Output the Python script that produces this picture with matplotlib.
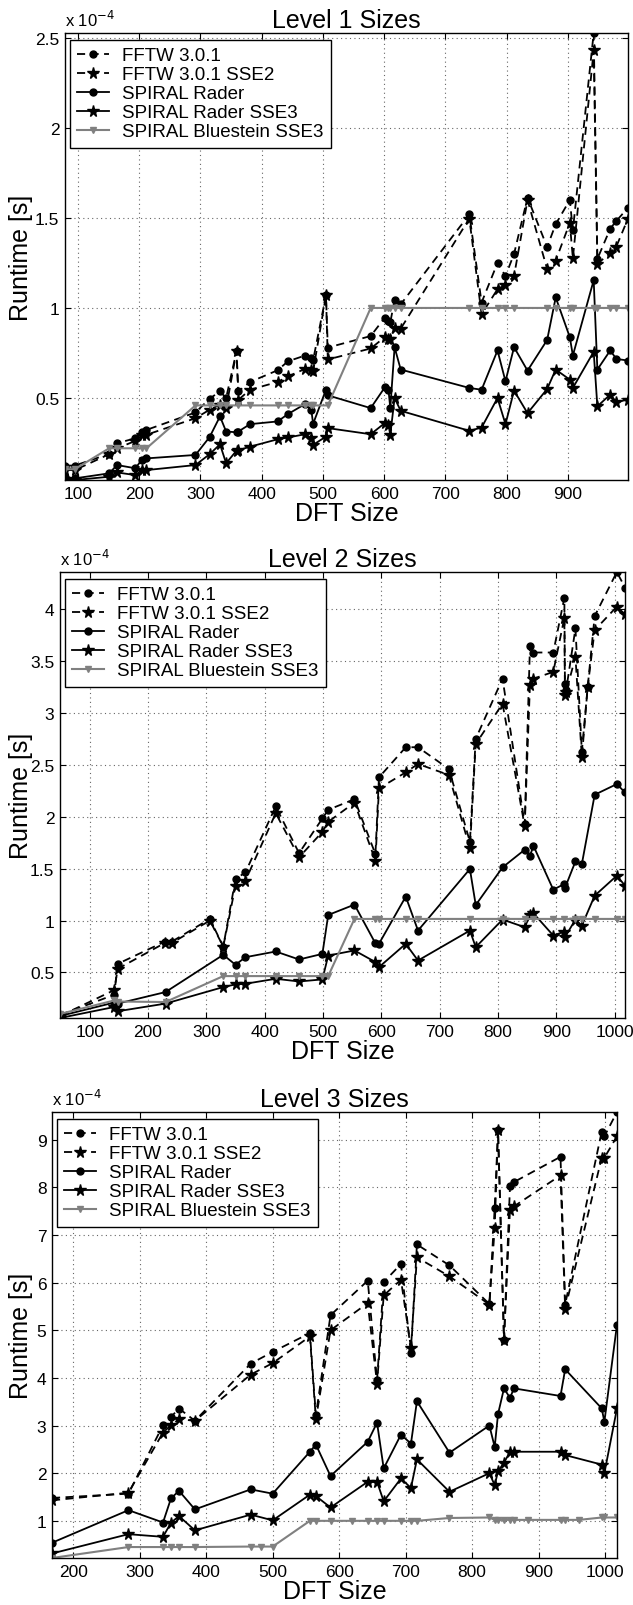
import matplotlib
matplotlib.use("Agg")
import matplotlib.pyplot as plt
from matplotlib.ticker import FuncFormatter

plt.rcParams['font.family'] = ['Liberation Sans', 'DejaVu Sans']

# runtimes are in units of 1e-4 s (the axes carry an "x 10^-4" multiplier)

# ---- Level 1 sizes ----
x1_fftw = [79, 95, 151, 164, 194, 204, 212, 292, 315, 332, 342, 359, 362, 381, 426, 443, 471, 481, 484, 505,
           508, 578, 601, 607, 610, 617, 627, 739, 759, 785, 798, 812, 834, 866, 880, 903, 908, 942, 948, 969,
           979, 998]
fftw1 = [0.125, 0.125, 0.19, 0.249, 0.277, 0.31, 0.323, 0.42, 0.496, 0.537, 0.50, 0.76, 0.537, 0.589, 0.654,
         0.704, 0.736, 0.723, 0.71, 1.07, 0.78, 0.844, 0.946, 0.928, 0.92, 1.045, 1.02, 1.519, 1.03, 1.25,
         1.177, 1.30, 1.612, 1.338, 1.465, 1.599, 1.431, 2.526, 1.272, 1.44, 1.483, 1.556]
fftw1_sse2 = [0.10, 0.10, 0.188, 0.221, 0.262, 0.292, 0.296, 0.388, 0.435, 0.463, 0.444, 0.76, 0.49, 0.546,
              0.589, 0.62, 0.662, 0.655, 0.649, 1.07, 0.714, 0.775, 0.838, 0.825, 0.83, 0.89, 0.885, 1.496,
              0.965, 1.104, 1.128, 1.178, 1.599, 1.216, 1.263, 1.472, 1.276, 2.429, 1.244, 1.306, 1.341, 1.496]
x1_rader = x1_fftw
rader1 = [0.063, 0.054, 0.082, 0.128, 0.11, 0.156, 0.165, 0.184, 0.283, 0.398, 0.314, 0.31, 0.314, 0.355,
          0.37, 0.411, 0.467, 0.435, 0.357, 0.546, 0.515, 0.444, 0.559, 0.546, 0.444, 0.782, 0.658, 0.556,
          0.546, 0.764, 0.593, 0.782, 0.652, 0.822, 1.058, 0.838, 0.736, 1.154, 0.658, 0.764, 0.717, 0.708]
rader1_sse3 = [0.045, 0.045, 0.063, 0.087, 0.072, 0.10, 0.10, 0.128, 0.188, 0.243, 0.138, 0.208, 0.21, 0.23,
               0.271, 0.281, 0.299, 0.277, 0.24, 0.286, 0.333, 0.299, 0.361, 0.35, 0.296, 0.50, 0.429, 0.318,
               0.336, 0.50, 0.355, 0.541, 0.416, 0.55, 0.658, 0.602, 0.556, 0.757, 0.454, 0.519, 0.478, 0.491]
x1_blue = [79, 95, 151, 164, 194, 204, 212, 292, 315, 332, 342, 361, 381, 426, 443, 471, 481, 484, 508, 578,
           601, 607, 610, 617, 627, 739, 759, 785, 798, 812, 866, 880, 903, 908, 942, 948, 969, 979, 998]
blue1 = [0.105, 0.105, 0.221, 0.221, 0.221, 0.221, 0.221, 0.459, 0.459, 0.459, 0.459, 0.459, 0.459, 0.459,
         0.459, 0.459, 0.459, 0.459, 0.459, 1.0, 1.0, 1.0, 1.0, 1.0, 1.0, 1.0, 1.0, 1.0, 1.0, 1.0, 1.0, 1.0,
         1.0, 1.0, 1.0, 1.0, 1.0, 1.0, 1.0]

# ---- Level 2 sizes ----
x2_fftw = [49, 142, 148, 229, 241, 306, 329, 350, 367, 419, 459, 499, 509, 554, 590, 596, 642, 663, 716, 752,
           762, 808, 846, 855, 861, 895, 914, 915, 917, 933, 944, 954, 966, 1004, 1018]
fftw2 = [0.09, 0.285, 0.583, 0.798, 0.798, 1.016, 0.75, 1.40, 1.465, 2.10, 1.65, 1.984, 2.068, 2.17, 1.64,
         2.38, 2.671, 2.671, 2.461, 1.76, 2.752, 3.332, 1.929, 3.648, 3.584, 3.584, 4.113, 3.284, 3.22, 3.816,
         2.629, 3.252, 3.935, 4.36, 4.21]
fftw2_sse2 = [0.08, 0.33, 0.535, 0.785, 0.785, 1.0, 0.75, 1.337, 1.385, 2.035, 1.61, 1.855, 1.952, 2.137,
              1.577, 2.274, 2.429, 2.51, 2.403, 1.695, 2.703, 3.09, 1.91, 3.274, 3.332, 3.397, 3.919, 3.171,
              3.2, 3.542, 2.574, 3.252, 3.80, 4.026, 3.952]
x2_rader = [49, 142, 148, 230, 329, 350, 367, 419, 459, 499, 509, 554, 590, 596, 642, 663, 752, 762, 808, 846,
            855, 861, 895, 914, 915, 933, 944, 966, 1004, 1018]
rader2 = [0.08, 0.21, 0.20, 0.311, 0.67, 0.574, 0.647, 0.702, 0.625, 0.679, 1.054, 1.154, 0.78, 0.776, 1.231,
          0.904, 1.497, 1.15, 1.513, 1.683, 1.625, 1.72, 1.298, 1.353, 1.314, 1.57, 1.545, 2.213, 2.316, 2.235]
rader2_sse3 = [0.061, 0.167, 0.126, 0.20, 0.359, 0.385, 0.391, 0.439, 0.413, 0.433, 0.663, 0.712, 0.60, 0.551,
               0.776, 0.615, 0.904, 0.744, 1.01, 0.936, 1.05, 1.07, 0.856, 0.894, 0.84, 1.01, 0.952, 1.24,
               1.433, 1.337]
x2_blue = [49, 142, 148, 230, 329, 350, 367, 419, 459, 499, 509, 554, 590, 596, 642, 663, 752, 808, 846, 861,
           895, 914, 933, 944, 966, 1004, 1018]
blue2 = [0.10, 0.23, 0.22, 0.215, 0.465, 0.465, 0.465, 0.465, 0.465, 0.465, 0.465, 1.016, 1.016, 1.016, 1.016,
         1.016, 1.016, 1.016, 1.016, 1.016, 1.016, 1.016, 1.016, 1.016, 1.016, 1.016, 1.016]

# ---- Level 3 sizes ----
x3_fftw = [168, 283, 335, 347, 359, 383, 467, 500, 556, 565, 587, 643, 657, 667, 693, 708, 717, 766, 826, 834,
           839, 848, 857, 863, 933, 940, 995, 999, 1018]
fftw3 = [1.48, 1.57, 3.007, 3.18, 3.357, 3.10, 4.30, 4.545, 4.94, 3.217, 5.315, 6.04, 3.95, 6.01, 6.39, 4.52,
         6.80, 6.36, 5.55, 7.57, 9.20, 4.80, 8.02, 8.11, 8.64, 5.54, 9.17, 9.07, 9.58]
fftw3_sse2 = [1.43, 1.59, 2.853, 3.007, 3.133, 3.10, 4.07, 4.31, 4.87, 3.133, 5.00, 5.57, 3.88, 5.73, 6.06,
              4.63, 6.53, 6.13, 5.54, 7.15, 9.20, 4.80, 7.53, 7.60, 8.25, 5.45, 8.62, 8.62, 9.07]
x3_rader = x3_fftw
rader3 = [0.54, 1.224, 0.965, 1.47, 1.63, 1.24, 1.66, 1.57, 2.45, 2.60, 1.94, 2.66, 3.06, 2.10, 2.81, 2.62,
          3.51, 2.43, 3.00, 2.55, 3.24, 3.78, 3.58, 3.78, 3.62, 4.18, 3.36, 3.08, 5.12]
rader3_sse3 = [0.315, 0.72, 0.664, 0.96, 1.10, 0.80, 1.13, 1.01, 1.55, 1.52, 1.28, 1.82, 1.82, 1.41, 1.89,
               1.69, 2.29, 1.61, 2.00, 1.75, 2.04, 2.22, 2.45, 2.45, 2.45, 2.38, 2.18, 2.00, 3.36]
x3_blue = [168, 283, 335, 347, 359, 383, 467, 483, 500, 556, 565, 587, 620, 643, 657, 667, 693, 708, 717, 766,
           826, 834, 839, 848, 857, 863, 884, 933, 940, 961, 995, 999, 1018]
blue3 = [0.22, 0.45, 0.45, 0.45, 0.45, 0.45, 0.46, 0.46, 0.46, 1.0, 1.0, 1.0, 1.0, 1.0, 1.0, 1.0, 1.0, 1.0,
         1.0, 1.06, 1.07, 1.02, 1.02, 1.02, 1.02, 1.02, 1.02, 1.02, 1.02, 1.02, 1.07, 1.07, 1.07]

labels = ['FFTW 3.0.1', 'FFTW 3.0.1 SSE2', 'SPIRAL Rader', 'SPIRAL Rader SSE3', 'SPIRAL Bluestein SSE3']
titles = ['Level 1 Sizes', 'Level 2 Sizes', 'Level 3 Sizes']
xticks = [[100, 200, 300, 400, 500, 600, 700, 800, 900],
          [100, 200, 300, 400, 500, 600, 700, 800, 900, 1000],
          [200, 300, 400, 500, 600, 700, 800, 900, 1000]]
yticks = [[0.5, 1, 1.5, 2, 2.5],
          [0.5, 1, 1.5, 2, 2.5, 3, 3.5, 4],
          [1, 2, 3, 4, 5, 6, 7, 8, 9]]

panels = [
    (x1_fftw, fftw1, fftw1_sse2, x1_rader, rader1, rader1_sse3, x1_blue, blue1),
    (x2_fftw, fftw2, fftw2_sse2, x2_rader, rader2, rader2_sse3, x2_blue, blue2),
    (x3_fftw, fftw3, fftw3_sse2, x3_rader, rader3, rader3_sse3, x3_blue, blue3),
]

W, H = 633, 1606
# axes boxes in pixels: left, top, right, bottom
boxes = [(65, 34, 628, 481), (60, 573, 625, 1019), (52, 1113, 617, 1559)]

fig = plt.figure(figsize=(W / 100, H / 100), dpi=100)

fmt = FuncFormatter(lambda v, p: '%g' % v)
gray = '0.5'

for i, (xf, f, fs, xr, r, rs, xb, b) in enumerate(panels):
    l, t, rr, bt = boxes[i]
    ax = fig.add_axes([l / W, 1 - bt / H, (rr - l) / W, (bt - t) / H])

    ax.plot(xf, f, color='k', lw=1.3, dashes=(4.5, 3), marker='o', ms=5, label=labels[0])
    ax.plot(xf, fs, color='k', lw=1.3, dashes=(4.5, 3), marker='*', ms=8.5, label=labels[1])
    ax.plot(xr, r, color='k', lw=1.3, marker='o', ms=5, label=labels[2])
    ax.plot(xr, rs, color='k', lw=1.3, marker='*', ms=8.5, label=labels[3])
    ax.plot(xb, b, color=gray, lw=1.5, marker='v', ms=4.5, label=labels[4])

    allx = xf + xr + xb
    ally = f + fs + r + rs + b
    ax.set_xlim(min(allx), max(allx))
    ax.set_ylim(min(ally), max(ally))
    ax.set_xticks(xticks[i])
    ax.set_yticks(yticks[i])
    ax.xaxis.set_major_formatter(fmt)
    ax.yaxis.set_major_formatter(fmt)
    ax.grid(True, color='0.4', linestyle=(0, (1, 3)), lw=0.8)
    ax.tick_params(direction='in', top=True, right=True, length=4, width=0.8, labelsize=12.5, pad=4)
    for s in ax.spines.values():
        s.set_linewidth(1.0)

    ax.set_title(titles[i], fontsize=18, pad=4)
    ax.set_xlabel('DFT Size', fontsize=18, labelpad=0)
    ax.set_ylabel('Runtime [s]', fontsize=18)
    ax.yaxis.set_label_coords((33 - l) / (rr - l), 0.5)
    ax.annotate(r'x 10$^{-4}$', xy=(0, 1), xycoords='axes fraction', xytext=(0, 3),
                textcoords='offset points', ha='left', va='bottom', fontsize=12)

    leg = ax.legend(loc='upper left', bbox_to_anchor=(0.008, 0.985), borderaxespad=0, fontsize=13.5,
                    fancybox=False, edgecolor='k', framealpha=1, labelspacing=0.1, borderpad=0.4,
                    handlelength=1.7, handletextpad=0.7, numpoints=1)
    leg.get_frame().set_linewidth(1.0)

fig.savefig('out.png', dpi=100)
